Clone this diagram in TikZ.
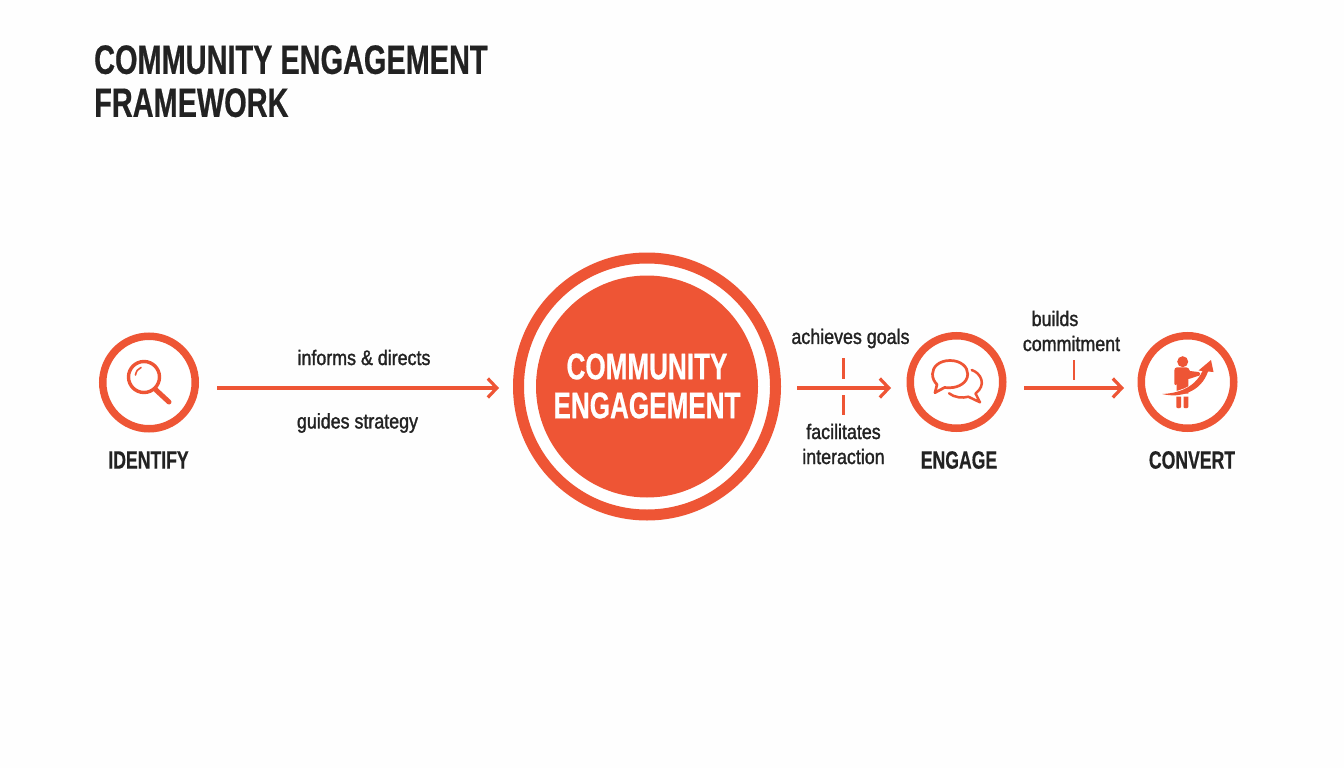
\documentclass[tikz,border=0pt]{standalone}
\usepackage{fontspec}
\setmainfont{Liberation Sans}
\newfontfamily\headfont[FakeStretch=0.705,BoldFont={Liberation Sans Bold},BoldFeatures={FakeBold=0.5}]{Liberation Sans}
\newfontfamily\labfont[FakeStretch=0.85,FakeBold=1.4]{Liberation Sans}
\usetikzlibrary{arrows.meta}
\definecolor{accent}{HTML}{EE5535}
\definecolor{ink}{HTML}{222222}
\tikzset{
  x=1pt,y=-1pt,
  ring/.style={circle,draw=accent,line width=7.5pt,minimum size=92.5pt,inner sep=0pt,fill=white},
  conn/.style={draw=accent,line width=3.2pt,-{Straight Barb[length=9pt,width=19pt,line width=3.2pt]}},
  tickline/.style={draw=accent,line width=2.2pt},
  lab/.style={text=ink,font=\labfont\fontsize{21}{25}\selectfont,align=center,inner sep=0pt},
  stagecap/.style={text=ink,font=\headfont\bfseries\fontsize{25}{30}\selectfont,align=center,inner sep=0pt},
  iconline/.style={draw=accent,line width=2.6pt,line cap=round,line join=round}
}
\begin{document}
\begin{tikzpicture}
\useasboundingbox (0,0) rectangle (1344,768);
\fill[white!99!gray] (0,0) rectangle (1344,768);
\node[anchor=north west,text=ink,inner sep=0pt,align=left,font=\headfont\bfseries\fontsize{41}{43}\selectfont] (title) at (94,45) {COMMUNITY ENGAGEMENT\\FRAMEWORK};

% main circle
\node[circle,draw=accent,line width=11pt,minimum size=257pt,inner sep=0pt,fill=white] (hub) at (647,386.5) {};
\node[circle,fill=accent,minimum size=222pt,inner sep=0pt] (core) at (647,386.5) {};
\node[text=white,align=center,inner sep=0pt,font=\headfont\bfseries\fontsize{37}{39}\selectfont] (hubtext) at (647,386) {COMMUNITY\\ENGAGEMENT};

% satellites
\node[ring] (identify) at (149,382.5) {};
\node[ring] (engage) at (956.5,382) {};
\node[ring] (convert) at (1187.5,382) {};

\node[stagecap] (identifyl) at (148.5,460) {IDENTIFY};
\node[stagecap] (engagel) at (959,460) {ENGAGE};
\node[stagecap] (convertl) at (1192,460) {CONVERT};

% connector ends
\coordinate (a1s) at (217,388);
\coordinate (a1e) at (499,388);
\coordinate (a2s) at (797,388);
\coordinate (a2e) at (891,388);
\coordinate (a3s) at (1024,388);
\coordinate (a3e) at (1124,388);
\coordinate (t1a) at (843.5,358);
\coordinate (t1b) at (843.5,379);
\coordinate (t2a) at (843.5,395);
\coordinate (t2b) at (843.5,415);
\coordinate (t3a) at (1074,360);
\coordinate (t3b) at (1074,380);
\draw[conn] (a1s) -- (a1e);
\draw[conn] (a2s) -- (a2e);
\draw[conn] (a3s) -- (a3e);
\draw[tickline] (t1a) -- (t1b);
\draw[tickline] (t2a) -- (t2b);
\draw[tickline] (t3a) -- (t3b);

% labels
\node[lab] (l1) at (364,357.5) {informs \& directs};
\node[lab] (l2) at (357.5,423) {guides strategy};
\node[lab] (l3) at (850.5,338.5) {achieves goals};
\node[lab] (l4) at (843.5,444) {facilitates\\interaction};
\node[lab] (l5) at (1071.5,331) {\hspace*{-33pt}builds\\commitment};

% magnifier
\draw[iconline,line width=3.4pt] (144,377) circle (15.5);
\draw[accent,line width=1.6pt,line cap=round] (135.5,375) .. controls (136,371.5) and (138,368.5) .. (141,367.5);
\draw[iconline,line width=5pt] (156,390) -- (169,402);

% chat bubbles
\draw[iconline,line width=2.5pt]
  (971.7,370) .. controls (981,373) and (987,385) .. (975.5,393.5)
  -- (980,402.3) -- (968.3,396.7)
  .. controls (963,398.5) and (954,397.5) .. (949,393.3);
\draw[iconline,line width=2.7pt]
  (950,360.5) .. controls (961,360.5) and (967.7,367) .. (967.7,374)
  .. controls (967.7,383) and (958,387.7) .. (950,387.7)
  .. controls (948,387.7) and (946,387.7) .. (944.5,387.5)
  -- (935,392.7) -- (937,384.5)
  .. controls (934,381.5) and (932.5,378) .. (932.5,374)
  .. controls (932.5,367) and (939,360.5) .. (950,360.5) -- cycle;

% person
\fill[accent] (1182.7,361.7) circle (5.5);
\fill[accent] (1177,367.3) .. controls (1175,367.3) and (1174.3,369) .. (1174.3,371)
  -- (1174.3,384) .. controls (1174.3,385.5) and (1176.7,385.5) .. (1176.7,384)
  -- (1176.7,393.5) -- (1188.3,393.5) -- (1188.3,379)
  -- (1191,378.3) -- (1199.5,375.5) .. controls (1201,374) and (1200,372) .. (1198.5,372)
  -- (1190,371) .. controls (1189,368.5) and (1188,367.3) .. (1186,367.3) -- cycle;
\fill[accent] (1176.3,396.7) -- (1181,396.7) -- (1181,407) .. controls (1181,408.7) and (1176.3,408.7) .. (1176.3,407) -- cycle;
\fill[accent] (1183.5,396.7) -- (1188.3,396.7) -- (1188.3,407) .. controls (1188.3,408.7) and (1183.5,408.7) .. (1183.5,407) -- cycle;
\draw[white,line width=1.2pt] (1201.5,374.5) .. controls (1193.5,389) and (1175,392.7) .. (1166,393.2);
\fill[accent] (1162.3,394) .. controls (1180,398.5) and (1201,392) .. (1208,371.5)
  -- (1213.5,372) -- (1211,360) -- (1198.5,370.5) -- (1202.5,371)
  .. controls (1194,389.5) and (1175,393.5) .. (1162.3,394) -- cycle;
\end{tikzpicture}
\end{document}
